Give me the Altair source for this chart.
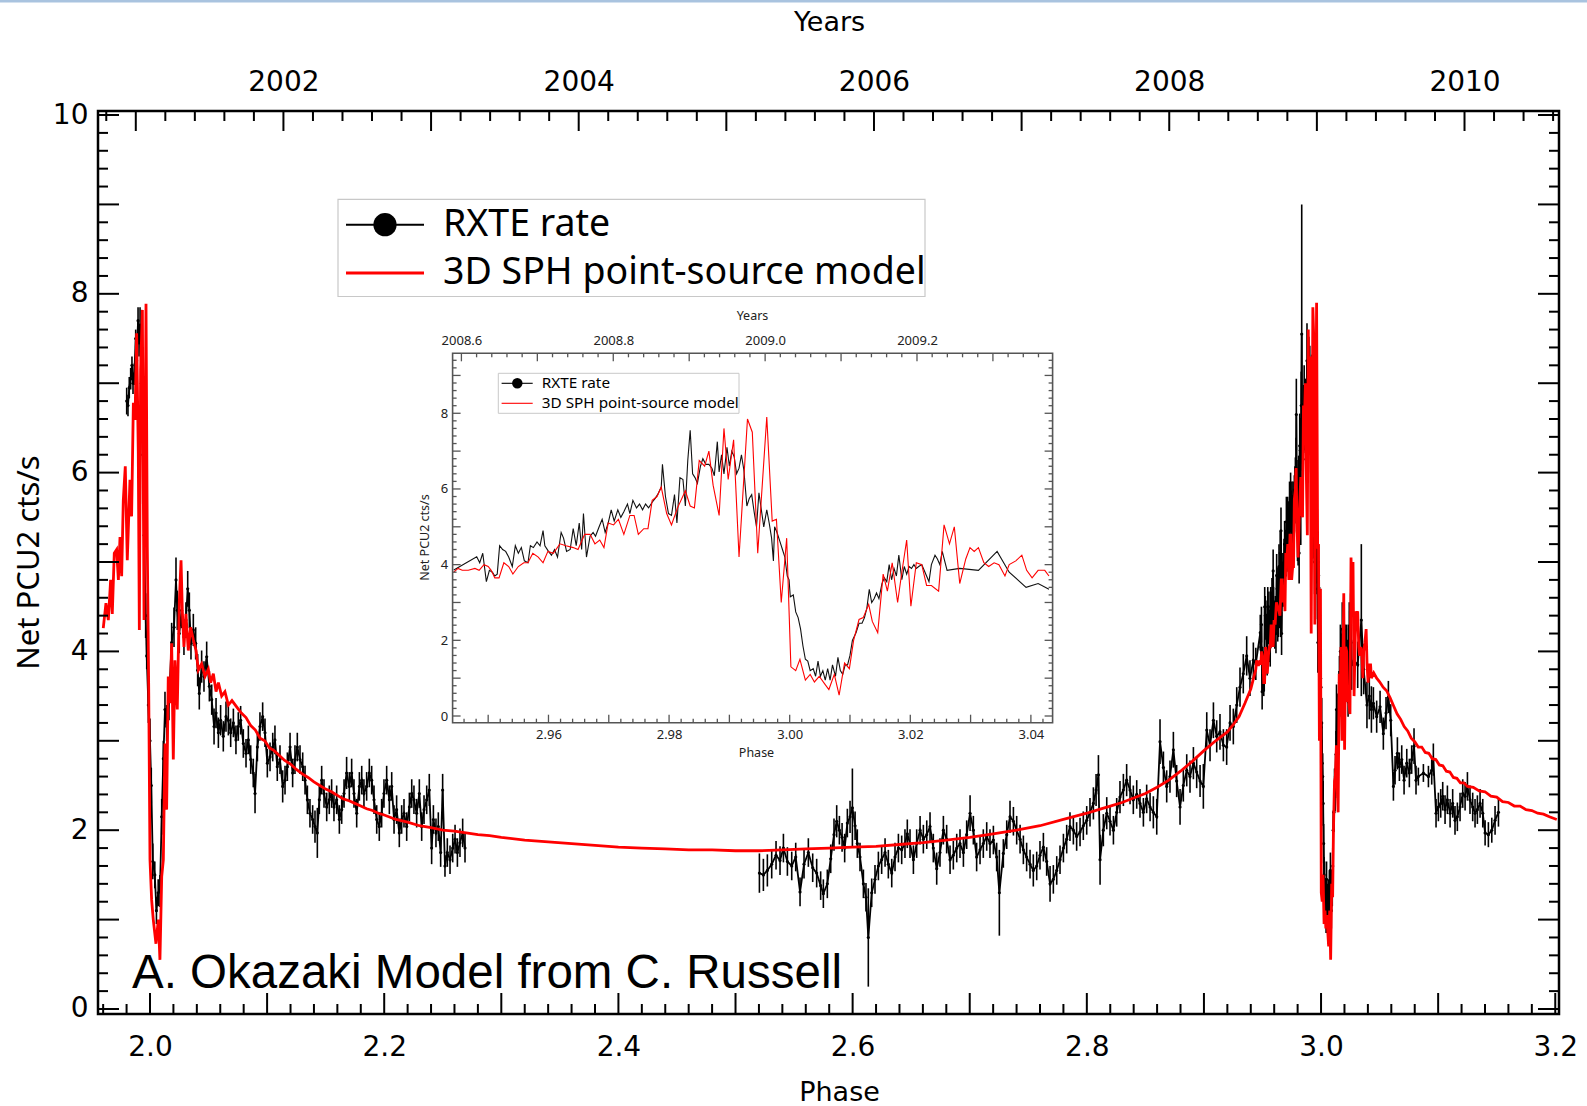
import altair as alt
import pandas as pd

# ------------------------------------------------------------------ data
# RXTE PCU2 net count rate: (orbital phase, rate [cts/s], 1-sigma error)
rxte_p2 = [
    (1.9801, 6.80, 0.15), (1.9812, 6.75, 0.12), (1.9823, 6.95, 0.12), (1.9835, 7.05, 0.12),
    (1.9846, 7.20, 0.10), (1.9855, 7.00, 0.12), (1.9866, 7.10, 0.12), (1.9878, 7.50, 0.10),
    (1.9886, 7.25, 0.12), (1.9898, 7.70, 0.15), (1.9906, 7.45, 0.15), (1.9915, 7.65, 0.20),
    (1.9926, 7.00, 0.30), (1.9938, 6.20, 0.55), (1.9950, 5.30, 0.35), (1.9963, 4.40, 0.25),
    (1.9972, 3.95, 0.15), (1.9986, 3.40, 0.20), (2.0000, 3.00, 0.25), (2.0011, 2.50, 0.20),
    (2.0024, 1.65, 0.20), (2.0041, 1.50, 0.15), (2.0055, 1.10, 0.15), (2.0070, 1.30, 0.15),
    (2.0085, 1.32, 0.18), (2.0100, 2.15, 0.20), (2.0114, 2.80, 0.20), (2.0128, 3.35, 0.20),
    (2.0142, 3.20, 0.20), (2.0162, 3.45, 0.22), (2.0185, 4.10, 0.22), (2.0205, 4.27, 0.22),
    (2.0222, 4.80, 0.25), (2.0233, 4.46, 0.22), (2.0250, 4.20, 0.22), (2.0270, 4.46, 0.20),
    (2.0290, 4.16, 0.20), (2.0307, 4.35, 0.20), (2.0322, 4.70, 0.20), (2.0336, 4.46, 0.20),
    (2.0350, 4.09, 0.18), (2.0370, 4.24, 0.18), (2.0390, 4.09, 0.18), (2.0407, 3.79, 0.18),
    (2.0421, 3.53, 0.18), (2.0441, 3.83, 0.18), (2.0461, 3.72, 0.17), (2.0484, 3.94, 0.17),
    (2.0507, 3.61, 0.17), (2.0527, 3.46, 0.17), (2.0547, 3.16, 0.20), (2.0564, 3.31, 0.17),
    (2.0584, 3.09, 0.17), (2.0603, 3.23, 0.17), (2.0626, 3.05, 0.17), (2.0649, 3.27, 0.17),
    (2.0669, 3.23, 0.17), (2.0689, 3.09, 0.16), (2.0712, 3.20, 0.16), (2.0734, 3.01, 0.16),
    (2.0754, 3.16, 0.16), (2.0774, 3.23, 0.16), (2.0797, 2.97, 0.16), (2.0820, 2.86, 0.16),
    (2.0840, 3.01, 0.16), (2.0860, 2.79, 0.16), (2.0882, 2.64, 0.16), (2.0897, 2.41, 0.22),
    (2.0917, 2.93, 0.16), (2.0939, 3.16, 0.16), (2.0962, 3.27, 0.16), (2.0982, 3.09, 0.16),
    (2.1002, 2.75, 0.16), (2.1025, 2.82, 0.16), (2.1048, 2.93, 0.16), (2.1067, 3.01, 0.16),
    (2.1087, 2.71, 0.16), (2.1110, 2.79, 0.16), (2.1133, 2.49, 0.18), (2.1153, 2.56, 0.16),
    (2.1173, 2.71, 0.16), (2.1196, 2.93, 0.16), (2.1218, 2.64, 0.16), (2.1238, 2.79, 0.16),
    (2.1258, 2.93, 0.16), (2.1281, 2.79, 0.16), (2.1304, 2.71, 0.16), (2.1324, 2.56, 0.16),
    (2.1344, 2.34, 0.16), (2.1366, 2.19, 0.16), (2.1389, 2.12, 0.16), (2.1409, 2.04, 0.18),
    (2.1429, 1.97, 0.28), (2.1446, 2.34, 0.16), (2.1466, 2.56, 0.16), (2.1486, 2.41, 0.16),
    (2.1509, 2.26, 0.16), (2.1531, 2.34, 0.16), (2.1551, 2.41, 0.16), (2.1571, 2.26, 0.16),
    (2.1594, 2.34, 0.16), (2.1617, 2.12, 0.16), (2.1637, 2.23, 0.16), (2.1657, 2.41, 0.16),
    (2.1679, 2.64, 0.18), (2.1702, 2.49, 0.16), (2.1722, 2.64, 0.16), (2.1742, 2.41, 0.16),
    (2.1765, 2.19, 0.16), (2.1788, 2.49, 0.16), (2.1808, 2.56, 0.16), (2.1827, 2.41, 0.16),
    (2.1850, 2.49, 0.16), (2.1873, 2.64, 0.16), (2.1893, 2.56, 0.16), (2.1913, 2.34, 0.16),
    (2.1936, 2.12, 0.16), (2.1958, 2.04, 0.16), (2.1978, 2.19, 0.16), (2.1998, 2.41, 0.16),
    (2.2021, 2.56, 0.16), (2.2044, 2.34, 0.16), (2.2064, 2.49, 0.16), (2.2084, 2.12, 0.16),
    (2.2106, 2.23, 0.16), (2.2129, 1.97, 0.16), (2.2149, 2.12, 0.16), (2.2169, 2.19, 0.16),
    (2.2192, 2.04, 0.16), (2.2215, 2.26, 0.16), (2.2235, 2.41, 0.16), (2.2254, 2.34, 0.16),
    (2.2277, 2.19, 0.16), (2.2300, 2.41, 0.16), (2.2320, 2.04, 0.16), (2.2340, 2.23, 0.16),
    (2.2363, 2.34, 0.16), (2.2385, 2.45, 0.18), (2.2405, 1.80, 0.18), (2.2420, 2.12, 0.16),
    (2.2442, 1.97, 0.16), (2.2462, 2.04, 0.16), (2.2482, 1.75, 0.16), (2.2499, 2.45, 0.18),
    (2.2519, 1.60, 0.12), (2.2539, 1.75, 0.16), (2.2562, 1.67, 0.16), (2.2585, 1.80, 0.16),
    (2.2605, 1.90, 0.16), (2.2625, 1.75, 0.16), (2.2647, 1.86, 0.16), (2.2670, 1.97, 0.16),
    (2.2690, 1.80, 0.16),
]

rxte_approach = [
    (2.5204, 1.52, 0.22), (2.5238, 1.50, 0.18), (2.5272, 1.55, 0.18), (2.5309, 1.62, 0.16),
    (2.5346, 1.72, 0.16), (2.5380, 1.66, 0.16), (2.5409, 1.80, 0.16), (2.5443, 1.65, 0.16),
    (2.5480, 1.60, 0.16), (2.5514, 1.70, 0.16), (2.5551, 1.31, 0.16), (2.5585, 1.62, 0.16),
    (2.5622, 1.75, 0.16), (2.5659, 1.58, 0.16), (2.5693, 1.52, 0.16), (2.5727, 1.38, 0.16),
    (2.5750, 1.29, 0.16), (2.5784, 1.40, 0.16), (2.5813, 1.68, 0.16), (2.5841, 1.95, 0.18),
    (2.5864, 2.10, 0.18), (2.5887, 2.00, 0.16), (2.5910, 1.92, 0.16), (2.5932, 1.80, 0.16),
    (2.5955, 2.08, 0.16), (2.5978, 2.15, 0.18), (2.5998, 2.25, 0.44), (2.6021, 2.05, 0.16),
    (2.6040, 1.85, 0.16), (2.6063, 1.70, 0.16), (2.6092, 1.40, 0.16), (2.6114, 1.25, 0.16),
    (2.6134, 0.80, 0.55), (2.6163, 1.30, 0.16), (2.6191, 1.45, 0.16), (2.6220, 1.60, 0.16),
    (2.6248, 1.67, 0.16), (2.6277, 1.75, 0.16), (2.6305, 1.62, 0.16), (2.6334, 1.52, 0.16),
    (2.6362, 1.70, 0.16), (2.6391, 1.80, 0.16), (2.6419, 1.78, 0.16), (2.6447, 1.85, 0.16),
    (2.6467, 1.96, 0.16), (2.6490, 1.85, 0.16), (2.6519, 1.67, 0.16), (2.6547, 1.85, 0.16),
    (2.6576, 2.00, 0.16), (2.6604, 1.90, 0.16), (2.6633, 1.95, 0.16), (2.6661, 2.04, 0.16),
    (2.6689, 1.80, 0.16), (2.6718, 1.57, 0.18), (2.6746, 1.75, 0.16), (2.6775, 2.00, 0.16),
    (2.6803, 1.90, 0.16), (2.6832, 1.67, 0.16), (2.6860, 1.72, 0.16), (2.6889, 1.80, 0.16),
    (2.6917, 1.85, 0.16), (2.6946, 1.75, 0.16), (2.6974, 1.95, 0.16), (2.7003, 2.19, 0.20),
    (2.7031, 2.00, 0.16), (2.7059, 1.70, 0.16), (2.7088, 1.78, 0.16), (2.7116, 1.85, 0.16),
    (2.7145, 1.93, 0.16), (2.7173, 1.85, 0.16), (2.7202, 1.89, 0.16), (2.7230, 1.70, 0.16),
    (2.7253, 1.30, 0.48), (2.7287, 1.74, 0.16), (2.7316, 1.95, 0.16), (2.7344, 2.15, 0.18),
    (2.7373, 2.10, 0.16), (2.7401, 2.00, 0.16), (2.7430, 1.90, 0.16), (2.7458, 1.78, 0.16),
    (2.7486, 1.70, 0.16), (2.7515, 1.62, 0.16), (2.7543, 1.55, 0.18), (2.7572, 1.60, 0.16),
    (2.7600, 1.72, 0.16), (2.7629, 1.81, 0.16), (2.7657, 1.65, 0.16), (2.7686, 1.40, 0.20),
    (2.7714, 1.45, 0.16), (2.7743, 1.55, 0.16), (2.7771, 1.67, 0.16), (2.7800, 1.80, 0.16),
    (2.7828, 1.90, 0.16), (2.7856, 2.04, 0.16), (2.7885, 2.00, 0.16), (2.7913, 1.93, 0.16),
    (2.7942, 1.98, 0.16), (2.7970, 2.05, 0.16), (2.7999, 2.11, 0.16), (2.8027, 2.20, 0.16),
    (2.8056, 2.30, 0.18), (2.8079, 2.45, 0.18), (2.8099, 2.62, 0.22), (2.8113, 1.67, 0.28),
    (2.8141, 2.00, 0.18), (2.8170, 2.19, 0.18), (2.8198, 2.10, 0.16), (2.8227, 2.00, 0.16),
    (2.8255, 2.20, 0.16), (2.8283, 2.37, 0.18), (2.8312, 2.45, 0.18), (2.8340, 2.56, 0.18),
    (2.8369, 2.45, 0.16), (2.8397, 2.34, 0.16), (2.8426, 2.40, 0.16), (2.8454, 2.30, 0.16),
    (2.8483, 2.20, 0.16), (2.8511, 2.35, 0.16), (2.8540, 2.26, 0.16), (2.8568, 2.20, 0.18),
    (2.8597, 2.15, 0.20), (2.8625, 2.99, 0.25), (2.8654, 2.70, 0.18), (2.8682, 2.49, 0.18),
    (2.8710, 2.60, 0.18), (2.8739, 2.90, 0.20), (2.8767, 2.55, 0.18), (2.8796, 2.26, 0.20),
    (2.8824, 2.50, 0.18), (2.8853, 2.67, 0.18), (2.8881, 2.60, 0.18), (2.8910, 2.75, 0.18),
    (2.8938, 2.65, 0.18), (2.8967, 2.55, 0.18), (2.8995, 2.49, 0.25), (2.9024, 3.12, 0.20),
    (2.9052, 2.95, 0.18), (2.9081, 3.23, 0.20), (2.9109, 3.05, 0.18), (2.9137, 3.10, 0.20),
    (2.9166, 2.95, 0.18), (2.9194, 2.93, 0.20), (2.9223, 3.20, 0.20), (2.9251, 3.16, 0.20),
    (2.9280, 3.40, 0.20), (2.9308, 3.60, 0.22), (2.9336, 3.75, 0.22), (2.9365, 3.95, 0.22),
    (2.9393, 3.70, 0.20), (2.9422, 3.90, 0.20),
]

rxte_p3 = [
    (2.9443, 3.86, 0.18), (2.9481, 4.21, 0.20), (2.9486, 4.05, 0.20), (2.9491, 4.30, 0.20),
    (2.9497, 3.55, 0.20), (2.9502, 3.85, 0.20), (2.9507, 3.80, 0.20), (2.9511, 3.70, 0.20),
    (2.9515, 3.75, 0.20), (2.9519, 4.50, 0.22), (2.9524, 4.40, 0.22), (2.9529, 4.35, 0.22),
    (2.9534, 4.20, 0.22), (2.9540, 3.95, 0.22), (2.9545, 4.50, 0.22), (2.9550, 4.30, 0.22),
    (2.9555, 4.45, 0.22), (2.9560, 4.10, 0.22), (2.9566, 4.05, 0.22), (2.9570, 4.50, 0.22),
    (2.9575, 4.45, 0.22), (2.9581, 4.60, 0.22), (2.9586, 4.50, 0.22), (2.9591, 4.90, 0.24),
    (2.9594, 4.50, 0.22), (2.9600, 4.35, 0.22), (2.9605, 4.25, 0.22), (2.9610, 4.40, 0.22),
    (2.9615, 4.20, 0.22), (2.9621, 4.85, 0.24), (2.9625, 4.70, 0.24), (2.9630, 4.35, 0.24),
    (2.9636, 4.40, 0.24), (2.9641, 4.95, 0.25), (2.9646, 4.50, 0.24), (2.9651, 5.10, 0.25),
    (2.9655, 4.40, 0.24), (2.9658, 5.35, 0.26), (2.9663, 4.20, 0.24), (2.9669, 4.75, 0.25),
    (2.9674, 4.85, 0.25), (2.9678, 4.75, 0.25), (2.9684, 5.00, 0.26), (2.9689, 5.20, 0.26),
    (2.9694, 4.85, 0.26), (2.9699, 5.10, 0.26), (2.9704, 5.45, 0.28), (2.9709, 5.15, 0.26),
    (2.9715, 5.45, 0.28), (2.9720, 5.25, 0.28), (2.9725, 5.40, 0.28), (2.9731, 5.60, 0.30),
    (2.9735, 5.35, 0.28), (2.9740, 5.70, 0.30), (2.9746, 5.50, 0.30), (2.9751, 5.60, 0.30),
    (2.9756, 5.45, 0.30), (2.9761, 5.60, 0.30), (2.9766, 5.50, 0.32), (2.9772, 5.65, 0.32),
    (2.9777, 5.75, 0.32), (2.9781, 5.85, 0.32), (2.9787, 6.05, 0.34), (2.9789, 6.65, 0.40),
    (2.9794, 5.80, 0.34), (2.9799, 5.35, 0.34), (2.9804, 5.30, 0.34), (2.9809, 5.85, 0.34),
    (2.9813, 5.10, 0.34), (2.9818, 6.30, 0.36), (2.9823, 6.25, 0.36), (2.9827, 5.55, 0.36),
    (2.9831, 6.75, 0.38), (2.9835, 7.55, 1.45), (2.9839, 6.40, 0.38), (2.9843, 6.30, 0.38),
    (2.9847, 6.15, 0.38), (2.9852, 6.60, 0.38), (2.9856, 6.80, 0.40), (2.9861, 6.65, 0.40),
    (2.9866, 6.65, 0.40), (2.9871, 6.55, 0.40), (2.9875, 6.35, 0.40), (2.9880, 7.25, 0.42),
    (2.9883, 6.45, 0.40), (2.9887, 6.90, 0.40), (2.9891, 6.40, 0.40), (2.9896, 7.10, 0.42),
    (2.9900, 6.60, 0.40), (2.9904, 7.00, 0.42), (2.9908, 6.85, 0.42), (2.9912, 6.40, 0.40),
    (2.9916, 6.55, 0.40), (2.9920, 6.90, 0.42), (2.9924, 6.50, 0.40), (2.9929, 5.55, 0.38),
    (2.9933, 5.75, 0.38), (2.9937, 5.85, 0.38), (2.9941, 5.40, 0.36), (2.9945, 5.00, 0.36),
    (2.9949, 5.90, 0.38), (2.9953, 5.45, 0.36), (2.9957, 5.00, 0.36), (2.9962, 5.45, 0.36),
    (2.9966, 5.10, 0.34), (2.9970, 4.70, 0.34), (2.9973, 4.10, 0.34), (2.9975, 5.00, 0.34),
    (2.9979, 4.85, 0.34), (2.9984, 4.60, 0.32), (2.9988, 4.40, 0.32), (2.9992, 4.20, 0.30),
    (2.9996, 3.70, 0.30), (2.9999, 3.60, 0.30), (3.0001, 3.15, 0.28), (3.0006, 3.20, 0.28),
    (3.0010, 2.75, 0.26), (3.0014, 2.60, 0.26), (3.0018, 2.30, 0.25), (3.0022, 1.85, 0.22),
    (3.0026, 1.50, 0.20), (3.0030, 1.45, 0.20), (3.0034, 1.20, 0.20), (3.0039, 1.25, 0.20),
    (3.0043, 1.05, 0.20), (3.0047, 1.45, 0.20), (3.0051, 1.05, 0.20), (3.0055, 1.20, 0.20),
    (3.0059, 0.95, 0.22), (3.0063, 1.25, 0.20), (3.0067, 0.95, 0.22), (3.0071, 1.35, 0.20),
    (3.0076, 1.05, 0.20), (3.0080, 1.55, 0.20), (3.0084, 1.20, 0.20), (3.0088, 1.10, 0.20),
    (3.0092, 1.35, 0.20), (3.0096, 1.35, 0.20), (3.0100, 1.60, 0.20), (3.0104, 2.00, 0.22),
    (3.0110, 2.20, 0.22), (3.0115, 2.45, 0.24), (3.0120, 2.45, 0.24), (3.0124, 2.60, 0.24),
    (3.0128, 2.85, 0.26), (3.0132, 3.35, 0.28), (3.0136, 3.00, 0.26), (3.0140, 3.10, 0.26),
    (3.0144, 3.25, 0.28), (3.0148, 3.10, 0.26), (3.0153, 3.50, 0.28), (3.0157, 3.65, 0.30),
    (3.0161, 3.55, 0.28), (3.0165, 4.00, 0.30), (3.0169, 3.60, 0.28), (3.0173, 3.90, 0.30),
    (3.0177, 3.70, 0.28), (3.0181, 4.25, 0.30), (3.0186, 3.60, 0.28), (3.0190, 3.95, 0.30),
    (3.0194, 3.75, 0.28), (3.0198, 3.95, 0.30), (3.0202, 3.90, 0.30), (3.0206, 4.00, 0.30),
    (3.0210, 3.90, 0.30), (3.0214, 3.95, 0.30), (3.0219, 4.00, 0.30), (3.0223, 3.85, 0.28),
    (3.0227, 3.70, 0.28), (3.0231, 3.55, 0.28), (3.0235, 4.00, 0.30), (3.0241, 4.25, 0.30),
    (3.0245, 4.15, 0.30), (3.0249, 4.00, 0.30), (3.0253, 4.35, 0.30), (3.0257, 4.10, 0.30),
    (3.0261, 3.85, 0.28), (3.0282, 3.90, 0.26), (3.0313, 3.85, 0.26), (3.0344, 4.35, 0.85),
    (3.0364, 3.80, 0.28), (3.0392, 3.40, 0.26), (3.0412, 3.50, 0.26), (3.0430, 3.35, 0.26),
]

rxte_after = [
    (3.0447, 3.42, 0.18), (3.0475, 3.27, 0.18), (3.0504, 3.38, 0.18), (3.0532, 3.08, 0.18),
    (3.0555, 3.31, 0.18), (3.0575, 3.49, 0.18), (3.0595, 3.23, 0.18), (3.0618, 2.49, 0.16),
    (3.0632, 2.67, 0.16), (3.0652, 2.86, 0.18), (3.0669, 2.71, 0.16), (3.0689, 2.79, 0.16),
    (3.0709, 2.56, 0.16), (3.0732, 2.75, 0.16), (3.0754, 2.64, 0.16), (3.0774, 2.79, 0.16),
    (3.0794, 2.94, 0.20), (3.0811, 2.56, 0.16), (3.0831, 2.60, 0.10), (3.0874, 2.64, 0.10),
    (3.0917, 2.60, 0.12), (3.0945, 2.67, 0.16), (3.0959, 2.79, 0.18), (3.0982, 2.19, 0.16),
    (3.1002, 2.26, 0.16), (3.1022, 2.30, 0.16), (3.1039, 2.38, 0.16), (3.1059, 2.23, 0.16),
    (3.1079, 2.34, 0.16), (3.1102, 2.19, 0.16), (3.1124, 2.30, 0.16), (3.1144, 2.11, 0.16),
    (3.1164, 2.15, 0.16), (3.1187, 2.26, 0.16), (3.1210, 2.41, 0.16), (3.1230, 2.38, 0.16),
    (3.1250, 2.49, 0.16), (3.1272, 2.34, 0.16), (3.1295, 2.26, 0.16), (3.1315, 2.19, 0.16),
    (3.1335, 2.23, 0.16), (3.1358, 2.30, 0.16), (3.1381, 2.19, 0.16), (3.1401, 1.97, 0.14),
    (3.1429, 1.95, 0.14), (3.1458, 2.00, 0.14), (3.1486, 2.11, 0.16), (3.1515, 2.20, 0.16),
]

# 3D SPH point-source model: (orbital phase, rate [cts/s])
model_p2 = [
    (1.9601, 4.26), (1.9624, 4.54), (1.9644, 4.35), (1.9664, 4.80), (1.9678, 4.42),
    (1.9695, 5.10), (1.9715, 5.14), (1.9730, 4.80), (1.9744, 5.28), (1.9758, 4.84),
    (1.9772, 5.69), (1.9789, 6.07), (1.9806, 5.02), (1.9829, 5.92), (1.9843, 5.51),
    (1.9858, 6.78), (1.9872, 6.59), (1.9886, 7.56), (1.9900, 6.22), (1.9909, 4.24),
    (1.9920, 7.15), (1.9935, 7.82), (1.9949, 4.35), (1.9966, 7.89), (1.9977, 5.17),
    (1.9989, 3.57), (2.0000, 1.67), (2.0014, 1.22), (2.0028, 1.00), (2.0051, 0.73),
    (2.0071, 1.00), (2.0085, 0.55), (2.0100, 1.48), (2.0114, 1.67), (2.0128, 2.97),
    (2.0142, 2.23), (2.0156, 3.72), (2.0171, 3.42), (2.0185, 4.09), (2.0199, 2.79),
    (2.0213, 3.90), (2.0233, 3.35), (2.0250, 4.54), (2.0265, 5.02), (2.0276, 4.46),
    (2.0290, 4.05), (2.0307, 4.42), (2.0327, 4.01), (2.0347, 4.27), (2.0370, 4.13),
    (2.0393, 4.01), (2.0413, 3.79), (2.0441, 3.86), (2.0470, 3.72), (2.0498, 3.80),
    (2.0518, 3.65), (2.0541, 3.75), (2.0564, 3.55), (2.0584, 3.65), (2.0612, 3.50),
    (2.0640, 3.55), (2.0669, 3.40),
]

model_mid = [
    (2.0700, 3.45), (2.0740, 3.38), (2.0780, 3.31), (2.0820, 3.26), (2.0860, 3.17),
    (2.0900, 3.12), (2.0940, 3.03), (2.0980, 3.00), (2.1020, 2.92), (2.1060, 2.89),
    (2.1100, 2.84), (2.1150, 2.78), (2.1200, 2.74), (2.1250, 2.68), (2.1300, 2.63),
    (2.1350, 2.59), (2.1400, 2.54), (2.1450, 2.50), (2.1500, 2.46), (2.1550, 2.43),
    (2.1600, 2.39), (2.1650, 2.35), (2.1700, 2.33), (2.1750, 2.30), (2.1800, 2.27),
    (2.1850, 2.24), (2.1900, 2.22), (2.1950, 2.19), (2.2000, 2.17), (2.2100, 2.12),
    (2.2200, 2.09), (2.2300, 2.05), (2.2400, 2.03), (2.2500, 2.00), (2.2600, 1.99),
    (2.2700, 1.97), (2.2800, 1.95), (2.2900, 1.94), (2.3000, 1.92), (2.3200, 1.89),
    (2.3400, 1.87), (2.3600, 1.85), (2.3800, 1.83), (2.4000, 1.81), (2.4200, 1.80),
    (2.4400, 1.79), (2.4600, 1.78), (2.4800, 1.78), (2.5000, 1.77), (2.5200, 1.77),
    (2.5400, 1.78), (2.5600, 1.79), (2.5800, 1.80), (2.6000, 1.81), (2.6200, 1.82),
    (2.6400, 1.84), (2.6600, 1.86), (2.6800, 1.89), (2.7000, 1.92), (2.7200, 1.96),
    (2.7400, 2.00), (2.7600, 2.05), (2.7800, 2.12), (2.8000, 2.19), (2.8100, 2.23),
    (2.8200, 2.27), (2.8300, 2.31), (2.8400, 2.36), (2.8500, 2.41), (2.8600, 2.48),
    (2.8700, 2.56), (2.8800, 2.66), (2.8900, 2.77), (2.9000, 2.89), (2.9100, 3.00),
    (2.9200, 3.10), (2.9250, 3.18), (2.9300, 3.27), (2.9350, 3.42), (2.9400, 3.58),
]

model_p3 = [
    (2.9443, 3.80), (2.9450, 3.90), (2.9457, 3.85), (2.9467, 3.85), (2.9478, 3.90),
    (2.9485, 3.85), (2.9493, 4.00), (2.9500, 3.95), (2.9505, 3.85), (2.9511, 3.65),
    (2.9518, 3.65), (2.9526, 4.05), (2.9534, 3.95), (2.9541, 3.75), (2.9550, 3.95),
    (2.9559, 4.05), (2.9566, 4.05), (2.9574, 4.30), (2.9583, 4.20), (2.9591, 4.05),
    (2.9599, 4.35), (2.9608, 4.30), (2.9619, 4.55), (2.9629, 4.50), (2.9641, 4.45),
    (2.9649, 4.40), (2.9660, 4.80), (2.9669, 4.80), (2.9677, 4.55), (2.9685, 4.65),
    (2.9692, 4.45), (2.9699, 5.10), (2.9708, 5.05), (2.9716, 5.20), (2.9725, 4.80),
    (2.9735, 5.30), (2.9742, 5.30), (2.9749, 4.80), (2.9758, 4.95), (2.9765, 4.95),
    (2.9772, 5.70), (2.9780, 5.80), (2.9787, 6.05), (2.9796, 5.35), (2.9804, 5.05),
    (2.9814, 5.50), (2.9827, 5.95), (2.9835, 5.55), (2.9842, 5.50), (2.9850, 6.75),
    (2.9859, 6.60), (2.9866, 7.00), (2.9873, 6.10), (2.9883, 5.30), (2.9891, 7.60),
    (2.9898, 6.25), (2.9907, 7.30), (2.9916, 4.20), (2.9930, 7.85), (2.9938, 7.50),
    (2.9947, 4.30), (2.9962, 7.90), (2.9971, 5.15), (2.9978, 5.20), (2.9986, 3.00),
    (2.9995, 4.70), (3.0002, 1.30), (3.0010, 1.20), (3.0017, 1.50), (3.0026, 0.95),
    (3.0034, 1.10), (3.0041, 0.90), (3.0049, 1.05), (3.0058, 0.85), (3.0065, 0.70),
    (3.0074, 1.10), (3.0082, 0.55), (3.0091, 1.40), (3.0099, 1.25), (3.0106, 2.00),
    (3.0115, 2.55), (3.0122, 2.60), (3.0131, 2.95), (3.0137, 2.50), (3.0146, 2.20),
    (3.0155, 3.75), (3.0162, 3.30), (3.0170, 4.05), (3.0179, 3.00), (3.0186, 3.80),
    (3.0194, 4.65), (3.0201, 2.90), (3.0210, 4.05), (3.0219, 4.00), (3.0227, 3.45),
    (3.0235, 3.45), (3.0247, 3.30), (3.0256, 5.05), (3.0265, 4.55), (3.0273, 5.00),
    (3.0282, 3.50), (3.0292, 4.15), (3.0299, 4.45), (3.0306, 4.35), (3.0313, 4.45),
    (3.0322, 4.05), (3.0330, 3.95), (3.0339, 4.05), (3.0347, 4.00), (3.0357, 3.70),
    (3.0364, 4.00), (3.0375, 4.10), (3.0385, 4.25), (3.0393, 3.85), (3.0402, 3.65),
    (3.0412, 3.85), (3.0423, 3.85), (3.0430, 3.70),
]

model_after = [
    (3.0450, 3.76), (3.0475, 3.70), (3.0500, 3.66), (3.0530, 3.60), (3.0560, 3.56),
    (3.0590, 3.48), (3.0620, 3.39), (3.0650, 3.30), (3.0680, 3.24), (3.0710, 3.16),
    (3.0740, 3.11), (3.0770, 3.03), (3.0800, 2.99), (3.0830, 2.93), (3.0860, 2.93),
    (3.0890, 2.87), (3.0920, 2.86), (3.0950, 2.80), (3.0980, 2.79), (3.1010, 2.73),
    (3.1040, 2.72), (3.1070, 2.66), (3.1100, 2.65), (3.1130, 2.59), (3.1160, 2.58),
    (3.1190, 2.53), (3.1220, 2.53), (3.1250, 2.49), (3.1300, 2.48), (3.1350, 2.44),
    (3.1400, 2.43), (3.1450, 2.38), (3.1500, 2.37), (3.1550, 2.32), (3.1600, 2.31),
    (3.1650, 2.27), (3.1700, 2.27), (3.1750, 2.23), (3.1800, 2.22), (3.1850, 2.19),
    (3.1900, 2.18), (3.1950, 2.15), (3.2013, 2.12),
]

PHASE_LABELS = [2.0, 2.2, 2.4, 2.6, 2.8, 3.0, 3.2]
RATE_LABELS = [0, 2, 4, 6, 8, 10]
YEAR_LABELS = [2002, 2004, 2006, 2008, 2010]
INSET_PHASE_LABELS = [2.96, 2.98, 3.00, 3.02, 3.04]
INSET_RATE_LABELS = [0, 2, 4, 6, 8]
INSET_YEAR_LABELS = [2008.6, 2008.8, 2009.0, 2009.2]
LEGEND = ["RXTE rate", "3D SPH point-source model"]
CREDIT = "A. Okazaki Model from C. Russell"

# ------------------------------------------------------------- frames
cols = ["phase", "rate", "err"]
obs = pd.concat([
    pd.DataFrame(rxte_p2, columns=cols).assign(seg="p2"),
    pd.DataFrame(rxte_approach + rxte_p3 + rxte_after, columns=cols).assign(seg="p3"),
], ignore_index=True)
obs_inset = pd.DataFrame(rxte_p3, columns=cols)
model = pd.DataFrame(model_p2 + model_mid + model_p3 + model_after, columns=["phase", "rate"])
model_inset = pd.DataFrame(model_p3, columns=["phase", "rate"])

# ------------------------------------------------------------ layout
W, H = 1461, 903
PHASE_DOMAIN = [1.9556, 3.2032]
RATE_DOMAIN = [-0.056, 10.045]
YEAR_DOMAIN = [2000.744, 2010.640]

IN_L, IN_R, IN_T, IN_B = 354.6, 954.6, 242.3, 611.7
IN_PHASE_DOMAIN = [2.9441, 3.0436]
IN_RATE_DOMAIN = [-0.177, 9.585]
IN_YEAR_DOMAIN = [2008.5884, 2009.3786]

AXFONT = "DejaVu Sans, Verdana, sans-serif"
SANS = "Noto Sans, DejaVu Sans, sans-serif"
HELV = "Liberation Sans, Arial, sans-serif"
RED = "#ff0000"
GREY = "#555555"


def ticks(start, stop, step):
    n = int(round((stop - start) / step))
    return [round(start + i * step, 6) for i in range(n + 1)]


def minor_only(minor, major):
    return [m for m in minor if min(abs(m - M) for M in major) > 1e-6]


def hticks(vals, scale, axis, y0, y1, color, width):
    return alt.Chart(pd.DataFrame({"t": vals})).mark_rule(color=color, strokeWidth=width).encode(
        x=alt.X("t:Q", scale=scale, axis=axis), y=alt.value(y0), y2=alt.value(y1))


def vticks(vals, scale, axis, x0, x1, color, width):
    return alt.Chart(pd.DataFrame({"t": vals})).mark_rule(color=color, strokeWidth=width).encode(
        y=alt.Y("t:Q", scale=scale, axis=axis), x=alt.value(x0), x2=alt.value(x1))


one = pd.DataFrame({"k": [0]})


def hline_px(x0, x1, y, color, width):
    return alt.Chart(one).mark_rule(color=color, strokeWidth=width).encode(
        x=alt.value(x0), x2=alt.value(x1), y=alt.value(y))


def box_px(x0, x1, y0, y1, stroke, width):
    return alt.Chart(one).mark_rect(fill="white", stroke=stroke, strokeWidth=width).encode(
        x=alt.value(x0), x2=alt.value(x1), y=alt.value(y0), y2=alt.value(y1))


def dot_px(x, y, size):
    return alt.Chart(one).mark_point(filled=True, color="black", opacity=1, size=size).encode(
        x=alt.value(x), y=alt.value(y))


def text_px(txt, x, y, font, size, baseline="middle"):
    return alt.Chart(one).mark_text(text=txt, font=font, fontSize=size, align="left",
                                    baseline=baseline, color="black").encode(
        x=alt.value(x), y=alt.value(y))


# --------------------------------------------------------------- main
xs = alt.Scale(domain=PHASE_DOMAIN, nice=False, zero=False)
ys = alt.Scale(domain=RATE_DOMAIN, nice=False, zero=False)

ax_phase = alt.Axis(
    orient="bottom", values=PHASE_LABELS, format=".1f", ticks=False, tickSize=0,
    domain=False, grid=False, labelFlush=False, labelFont=AXFONT, labelFontSize=28,
    labelColor="black", labelBaseline="alphabetic", labelPadding=41,
    title="Phase", titleFont=AXFONT, titleFontSize=27, titleFontWeight="normal",
    titleColor="black", titleX=741, titleY=86, titleBaseline="alphabetic", titleAlign="center")
ax_rate = alt.Axis(
    orient="left", values=RATE_LABELS, format="d", ticks=False, tickSize=0,
    domain=False, grid=False, labelFlush=False, labelFont=AXFONT, labelFontSize=28,
    labelColor="black", labelPadding=10, labelAlign="right", labelBaseline="middle",
    title="Net PCU2 cts/s", titleFont=SANS, titleFontSize=31, titleFontWeight="normal",
    titleColor="black", titleAngle=270, titleX=-69, titleY=451, titleAlign="center",
    titleBaseline="middle")

err_bars = alt.Chart(obs).transform_calculate(
    lo="datum.rate - datum.err", hi="datum.rate + datum.err"
).mark_rule(color="black", strokeWidth=1.6).encode(
    x=alt.X("phase:Q", scale=xs, axis=ax_phase),
    y=alt.Y("lo:Q", scale=ys, axis=ax_rate), y2="hi:Q")

obs_line = alt.Chart(obs).mark_line(
    color="black", strokeWidth=1.8,
    point=alt.OverlayMarkDef(filled=True, size=10, color="black")
).encode(
    x=alt.X("phase:Q", scale=xs, axis=ax_phase),
    y=alt.Y("rate:Q", scale=ys, axis=ax_rate), detail="seg:N")

model_line = alt.Chart(model).mark_line(color=RED, strokeWidth=2.8).encode(
    x=alt.X("phase:Q", scale=xs, axis=ax_phase),
    y=alt.Y("rate:Q", scale=ys, axis=ax_rate))

ph_major = ticks(2.0, 3.2, 0.1)
ph_minor = minor_only(ticks(1.96, 3.20, 0.02), ph_major)
rt_major = ticks(0, 10, 1)
rt_minor = minor_only(ticks(0, 10, 0.2), rt_major)

main = alt.layer(
    err_bars, obs_line, model_line,
    hticks(ph_major, xs, ax_phase, H, H - 21, "black", 2),
    hticks(ph_minor, xs, ax_phase, H, H - 10, "black", 2),
    vticks(rt_major, ys, ax_rate, 0, 21, "black", 2),
    vticks(rt_minor, ys, ax_rate, 0, 10, "black", 2),
    vticks(rt_major, ys, ax_rate, W, W - 21, "black", 2),
    vticks(rt_minor, ys, ax_rate, W, W - 10, "black", 2),
    text_px(CREDIT, 34, 877, HELV, 47.5, baseline="alphabetic"),
    box_px(240, 827, 88.4, 185.5, "#c8c8c8", 1.2),
    hline_px(248, 326, 113.7, "black", 2),
    dot_px(287, 113.7, 540),
    hline_px(248, 326, 162, RED, 2.8),
    text_px(LEGEND[0], 345, 113.7, SANS, 37.5),
    text_px(LEGEND[1], 345, 162, SANS, 37.5),
    hline_px(-98, 1489, -110, "#a9c3df", 3),
)

# -------------------------------------------------- calendar years axis
yrs = alt.Scale(domain=YEAR_DOMAIN, nice=False, zero=False)
ax_years = alt.Axis(
    orient="top", values=YEAR_LABELS, format="d", ticks=False, tickSize=0,
    domain=False, grid=False, labelFlush=False, labelFont=AXFONT, labelFontSize=28,
    labelColor="black", labelBaseline="alphabetic", labelPadding=21,
    title="Years", titleFont=AXFONT, titleFontSize=27, titleFontWeight="normal",
    titleColor="black", titleX=731, titleY=-81, titleBaseline="alphabetic", titleAlign="center")
yr_major = ticks(2001, 2010, 1)
yr_minor = minor_only(ticks(2000.8, 2010.6, 0.2), yr_major)
years = alt.layer(
    hticks(yr_major, yrs, ax_years, 0, 20, "black", 2),
    hticks(yr_minor, yrs, ax_years, 0, 10, "black", 2),
)

# -------------------------------------------------------------- inset
ixs = alt.Scale(domain=IN_PHASE_DOMAIN, range=[IN_L, IN_R], nice=False, zero=False)
iys = alt.Scale(domain=IN_RATE_DOMAIN, range=[IN_B, IN_T], nice=False, zero=False)

ax_iphase = alt.Axis(
    orient="bottom", offset=IN_B - H, values=INSET_PHASE_LABELS, format=".2f",
    ticks=False, tickSize=0, domain=False, grid=False, labelFlush=False,
    labelFont=SANS, labelFontSize=13, labelColor="#222222", labelBaseline="middle",
    labelPadding=12, title="Phase", titleFont=SANS, titleFontSize=12.5,
    titleFontWeight="normal", titleColor="#222222", titleX=658, titleY=30,
    titleBaseline="middle", titleAlign="center")
ax_irate = alt.Axis(
    orient="left", offset=-IN_L, values=INSET_RATE_LABELS, format="d",
    ticks=False, tickSize=0, domain=False, grid=False, labelFlush=False,
    labelFont=SANS, labelFontSize=13, labelColor="#222222", labelAlign="right",
    labelBaseline="middle", labelPadding=5, title="Net PCU2 cts/s", titleFont=SANS,
    titleFontSize=12.5, titleFontWeight="normal", titleColor="#222222", titleAngle=270,
    titleX=-28.6, titleY=426, titleAlign="center", titleBaseline="middle")

frame = alt.Chart(pd.DataFrame({
    "x0": [IN_PHASE_DOMAIN[0]], "x1": [IN_PHASE_DOMAIN[1]],
    "y0": [IN_RATE_DOMAIN[0]], "y1": [IN_RATE_DOMAIN[1]],
})).mark_rect(fill="white", stroke=GREY, strokeWidth=1.6).encode(
    x=alt.X("x0:Q", scale=ixs, axis=ax_iphase), x2="x1:Q",
    y=alt.Y("y0:Q", scale=iys, axis=ax_irate), y2="y1:Q")

inset_obs = alt.Chart(obs_inset).mark_line(color="#111111", strokeWidth=1.1).encode(
    x=alt.X("phase:Q", scale=ixs, axis=ax_iphase),
    y=alt.Y("rate:Q", scale=iys, axis=ax_irate))
inset_model = alt.Chart(model_inset).mark_line(color=RED, strokeWidth=1.1).encode(
    x=alt.X("phase:Q", scale=ixs, axis=ax_iphase),
    y=alt.Y("rate:Q", scale=iys, axis=ax_irate))

iph_major = ticks(2.95, 3.04, 0.01)
iph_minor = minor_only(ticks(2.946, 3.042, 0.002), iph_major)
irt_major = ticks(0, 9, 1)
irt_minor = minor_only(ticks(0, 9.4, 0.2), irt_major)

inset = alt.layer(
    frame, inset_obs, inset_model,
    hticks(iph_major, ixs, ax_iphase, IN_B, IN_B - 8, GREY, 1.3),
    hticks(iph_minor, ixs, ax_iphase, IN_B, IN_B - 4, GREY, 1.3),
    vticks(irt_major, iys, ax_irate, IN_L, IN_L + 8, GREY, 1.3),
    vticks(irt_minor, iys, ax_irate, IN_L, IN_L + 4, GREY, 1.3),
    vticks(irt_major, iys, ax_irate, IN_R, IN_R - 8, GREY, 1.3),
    vticks(irt_minor, iys, ax_irate, IN_R, IN_R - 4, GREY, 1.3),
    box_px(400.3, 641, 262.3, 302.3, "#c8c8c8", 1),
    hline_px(403.6, 434.7, 272.3, "black", 1.1),
    dot_px(419.3, 272.3, 110),
    hline_px(403.6, 434.7, 292.3, RED, 1.1),
    text_px(LEGEND[0], 443.8, 272.3, SANS, 15.3),
    text_px(LEGEND[1], 443.8, 292.3, SANS, 15.3),
)

iyrs = alt.Scale(domain=IN_YEAR_DOMAIN, range=[IN_L, IN_R], nice=False, zero=False)
ax_iyears = alt.Axis(
    orient="top", offset=-IN_T, values=INSET_YEAR_LABELS, format=".1f",
    ticks=False, tickSize=0, domain=False, grid=False, labelFlush=False,
    labelFont=SANS, labelFontSize=13, labelColor="#222222", labelBaseline="middle",
    labelPadding=12.6, title="Years", titleFont=SANS, titleFontSize=12.5,
    titleFontWeight="normal", titleColor="#222222", titleX=654, titleY=-37.6,
    titleBaseline="middle", titleAlign="center")
iyr_major = ticks(2008.6, 2009.3, 0.1)
iyr_minor = minor_only(ticks(2008.6, 2009.36, 0.02), iyr_major)
inset_years = alt.layer(
    hticks(iyr_major, iyrs, ax_iyears, IN_T, IN_T + 8, GREY, 1.3),
    hticks(iyr_minor, iyrs, ax_iyears, IN_T, IN_T + 4, GREY, 1.3),
)

chart = alt.layer(main, years, inset, inset_years).resolve_scale(
    x="independent", y="independent"
).properties(
    width=W, height=H,
    padding={"left": 98, "top": 111, "right": 28, "bottom": 92},
    autosize=alt.AutoSizeParams(type="none"),
).configure_view(stroke="black", strokeWidth=2.5)

chart.save("out.html", embed_options={"renderer": "svg", "actions": False})
